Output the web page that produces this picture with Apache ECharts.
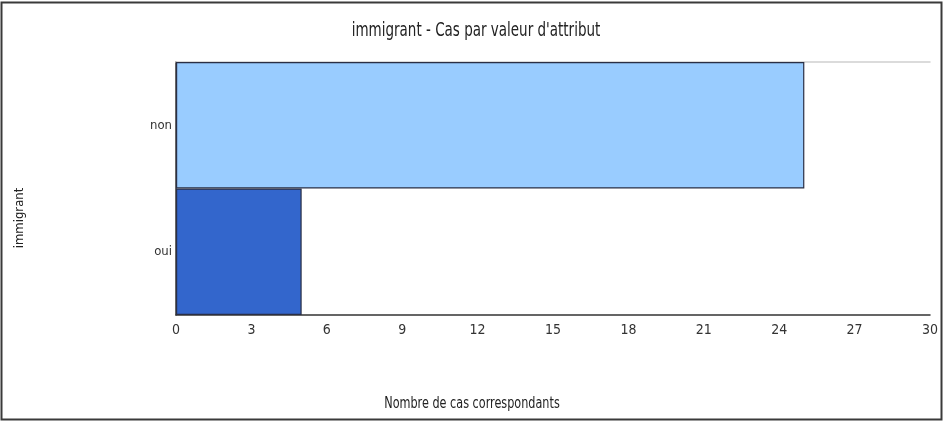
<!DOCTYPE html>
<html><head><meta charset="utf-8">
<script src="https://cdn.jsdelivr.net/npm/echarts@6/dist/echarts.min.js"></script>
<style>html,body{margin:0;padding:0;background:#fff}#c{width:944px;height:422px}</style>
</head><body><div id="c"></div>
<script>
var categories = ['oui', 'non'];
var values = [5, 25];
var barColors = ['#3366CC', '#99CCFF'];
var xTicks = [0, 3, 6, 9, 12, 15, 18, 21, 24, 27, 30];
var titleText = "immigrant - Cas par valeur d'attribut";
var xName = 'Nombre de cas correspondants';
var yName = 'immigrant';

var font = '"DejaVu Sans Condensed", "Liberation Sans Narrow", "Liberation Sans", sans-serif';
var chart = echarts.init(document.getElementById('c'));
chart.setOption({
  animation: false,
  backgroundColor: '#fff',
  grid: { left: 176, right: 14, top: 62, bottom: 107, containLabel: false },
  xAxis: [{
    type: 'value', min: xTicks[0], max: xTicks[xTicks.length - 1], interval: 3,
    axisLine: { show: true, lineStyle: { color: '#333', width: 1.5 } },
    axisTick: { show: false },
    splitLine: { show: false },
    axisLabel: { fontFamily: font, fontSize: 14, color: '#333', margin: 8 }
  }, {
    type: 'value', position: 'top', min: 0, max: 30,
    axisLine: { show: true, lineStyle: { color: '#d0d0d0', width: 1.5 } },
    axisTick: { show: false }, axisLabel: { show: false }, splitLine: { show: false }
  }],
  yAxis: {
    type: 'category', data: categories,
    axisLine: { show: true, lineStyle: { color: '#333', width: 1.5 } },
    axisTick: { show: false },
    axisLabel: { fontFamily: font, fontSize: 13, color: '#333', margin: 4 }
  },
  series: [{
    type: 'bar', xAxisIndex: 0, barWidth: '100%', barCategoryGap: 0,
    data: values.map(function (v, i) { return { value: v, itemStyle: { color: barColors[i] } }; }),
    itemStyle: { borderColor: '#2a2f45', borderWidth: 1.2 }
  }],
  graphic: [
    { type: 'rect', shape: { x: 1.5, y: 2.5, width: 940, height: 417 }, style: { fill: 'none', stroke: '#3a3a3a', lineWidth: 2 }, z: 100 },
    { type: 'text', x: 476, y: 31, scaleY: 1.3, style: { text: titleText, font: '15px ' + font, fill: '#222', textAlign: 'center', textVerticalAlign: 'middle' } },
    { type: 'text', x: 20, y: 218, rotation: Math.PI / 2, style: { text: yName, font: '13px ' + font, fill: '#222', textAlign: 'center', textVerticalAlign: 'middle' } },
    { type: 'text', x: 472, y: 404, scaleY: 1.2, style: { text: xName, font: '12.5px ' + font, fill: '#222', textAlign: 'center', textVerticalAlign: 'middle' } }
  ]
});
</script></body></html>
